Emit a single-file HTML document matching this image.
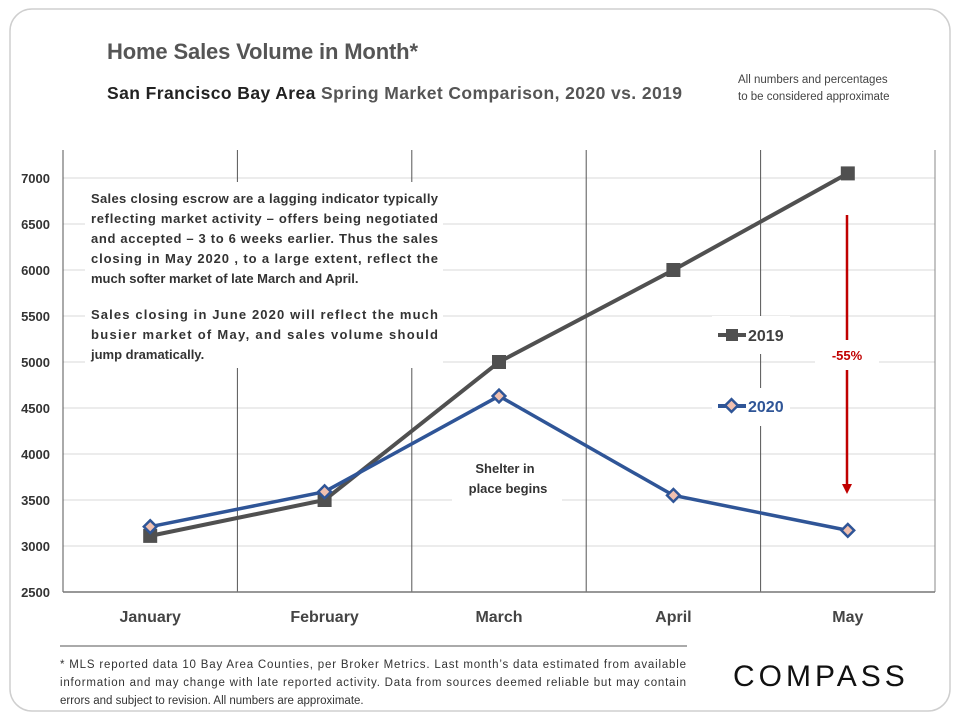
<!DOCTYPE html>
<html><head><meta charset="utf-8"><style>
body{margin:0;background:#fff;width:960px;height:720px;overflow:hidden;font-family:"Liberation Sans",sans-serif}
svg text{font-family:"Liberation Sans",sans-serif}
</style></head><body>
<svg width="960" height="720">
<rect x="10" y="9" width="940" height="702" rx="22" fill="#fff" stroke="#cfcfcf" stroke-width="1.5"/>
<text x="107" y="59" font-size="22" font-weight="bold" fill="#555" textLength="311">Home Sales Volume in Month*</text>
<text x="107" y="99" font-size="17.5" font-weight="bold" fill="#222" textLength="575" lengthAdjust="spacing">San Francisco Bay Area <tspan fill="#555">Spring Market Comparison,  2020 vs. 2019</tspan></text>
<text x="738" y="83" font-size="11.5" fill="#444">All numbers and percentages</text>
<text x="738" y="100" font-size="11.5" fill="#444">to be considered approximate</text>
<g id="grid"></g>
<g id="axes"></g>
<g id="series"></g>
<rect x="85" y="182" width="358" height="186" fill="#fff"/>
<g font-size="13" font-weight="bold" fill="#333">
<text x="91" y="203" textLength="347">Sales closing escrow are a lagging indicator typically</text>
<text x="91" y="223" textLength="347">reflecting market activity – offers being negotiated</text>
<text x="91" y="243" textLength="347">and accepted – 3 to 6 weeks earlier.  Thus the sales</text>
<text x="91" y="263" textLength="347">closing in May 2020 , to a large extent, reflect the</text>
<text x="91" y="283">much softer market of late March and April.</text>
<text x="91" y="319" textLength="347">Sales closing in June 2020 will reflect the much</text>
<text x="91" y="339" textLength="347">busier market of May, and sales volume should</text>
<text x="91" y="359">jump dramatically.</text>
</g>
<rect x="452" y="455" width="110" height="50" fill="#fff"/>
<text x="505" y="473" font-size="13" font-weight="bold" fill="#333" text-anchor="middle">Shelter in</text>
<text x="508" y="493" font-size="13" font-weight="bold" fill="#333" text-anchor="middle">place begins</text>
<rect x="712" y="316" width="78" height="38" fill="#fff"/>
<line x1="718" y1="335" x2="746" y2="335" stroke="#505050" stroke-width="4"/>
<rect x="726" y="329" width="12" height="12" fill="#505050"/>
<text x="748" y="341" font-size="16" font-weight="bold" fill="#404040">2019</text>
<rect x="712" y="388" width="78" height="38" fill="#fff"/>
<line x1="718" y1="406" x2="746" y2="406" stroke="#2f5597" stroke-width="4"/>
<rect x="727" y="401" width="9" height="9" fill="#f0c0b0" stroke="#2f5597" stroke-width="2.5" transform="rotate(45 731.5 405.5)"/>
<text x="748" y="412" font-size="16" font-weight="bold" fill="#2f5597">2020</text>
<rect x="815" y="340" width="64" height="30" fill="#fff"/>
<line x1="847" y1="215" x2="847" y2="340" stroke="#c00000" stroke-width="2.5"/>
<line x1="847" y1="370" x2="847" y2="484" stroke="#c00000" stroke-width="2.5"/>
<polygon points="842,484 852,484 847,494" fill="#c00000"/>
<text x="847" y="360" font-size="13" font-weight="bold" fill="#c00000" text-anchor="middle">-55%</text>
<line x1="60" y1="646" x2="687" y2="646" stroke="#555" stroke-width="1"/>
<g font-size="11.5" fill="#333">
<text x="60" y="668" textLength="626">* MLS reported data 10 Bay Area Counties, per Broker Metrics. Last month’s data estimated from available</text>
<text x="60" y="686" textLength="626">information and may change with late reported activity. Data from sources deemed reliable but may contain</text>
<text x="60" y="704">errors and subject to revision. All numbers are approximate.</text>
</g>
<text x="733" y="686" font-size="30" fill="#111" letter-spacing="4">COMPASS</text>
</svg>
<script>
const categories=["January","February","March","April","May"];
const s2019=[3110,3500,5000,6000,7050];
const s2020=[3210,3590,4630,3550,3170];
const yTicks=[2500,3000,3500,4000,4500,5000,5500,6000,6500,7000];
const L=63,R=935,T=150,B=592,ymin=2500,ymax=7000,yTop=178;
const ns="http://www.w3.org/2000/svg";
const bw=(R-L)/categories.length;
const x=i=>L+bw*(i+0.5);
const y=v=>B-(v-ymin)/(ymax-ymin)*(B-yTop);
function mk(t,a,p){const e=document.createElementNS(ns,t);for(const k in a)e.setAttribute(k,a[k]);p.appendChild(e);return e;}
const grid=document.getElementById('grid'),axes=document.getElementById('axes'),ser=document.getElementById('series');
yTicks.forEach(v=>{
 if(v>ymin){const g=mk('line',{x1:L,x2:R,y1:y(v),y2:y(v),stroke:'#d9d9d9','stroke-width':1},grid);
 
 }
 const t=mk('text',{x:50,y:y(v)+5,'font-size':13,'font-weight':'bold',fill:'#333','text-anchor':'end'},axes);t.textContent=v;
 
 
});
for(let i=0;i<=categories.length;i++){
 const g=mk('line',{x1:L+bw*i,x2:L+bw*i,y1:T,y2:B,stroke:i==categories.length?'#888':'#555','stroke-width':1},grid);
 
 
}
const base=mk('line',{x1:L,x2:R,y1:B,y2:B,stroke:'#777','stroke-width':1.5},axes);


categories.forEach((c,i)=>{
 const t=mk('text',{x:x(i),y:622,'font-size':16,'font-weight':'bold',fill:'#444','text-anchor':'middle'},axes);t.textContent=c;
 
 
});
const p19=mk('polyline',{points:s2019.map((v,i)=>x(i)+','+y(v)).join(' '),fill:'none',stroke:'#505050','stroke-width':4},ser);


s2019.forEach((v,i)=>{const r=mk('rect',{x:x(i)-7,y:y(v)-7,width:14,height:14,fill:'#505050'},ser);
 
 });
const p20=mk('polyline',{points:s2020.map((v,i)=>x(i)+','+y(v)).join(' '),fill:'none',stroke:'#2f5597','stroke-width':3.5},ser);


s2020.forEach((v,i)=>{const r=mk('rect',{x:x(i)-4.5,y:y(v)-4.5,width:9,height:9,fill:'#f0c0b0',stroke:'#2f5597','stroke-width':2.5,transform:`rotate(45 ${x(i)} ${y(v)})`},ser);
 
 });
</script>
</body></html>
